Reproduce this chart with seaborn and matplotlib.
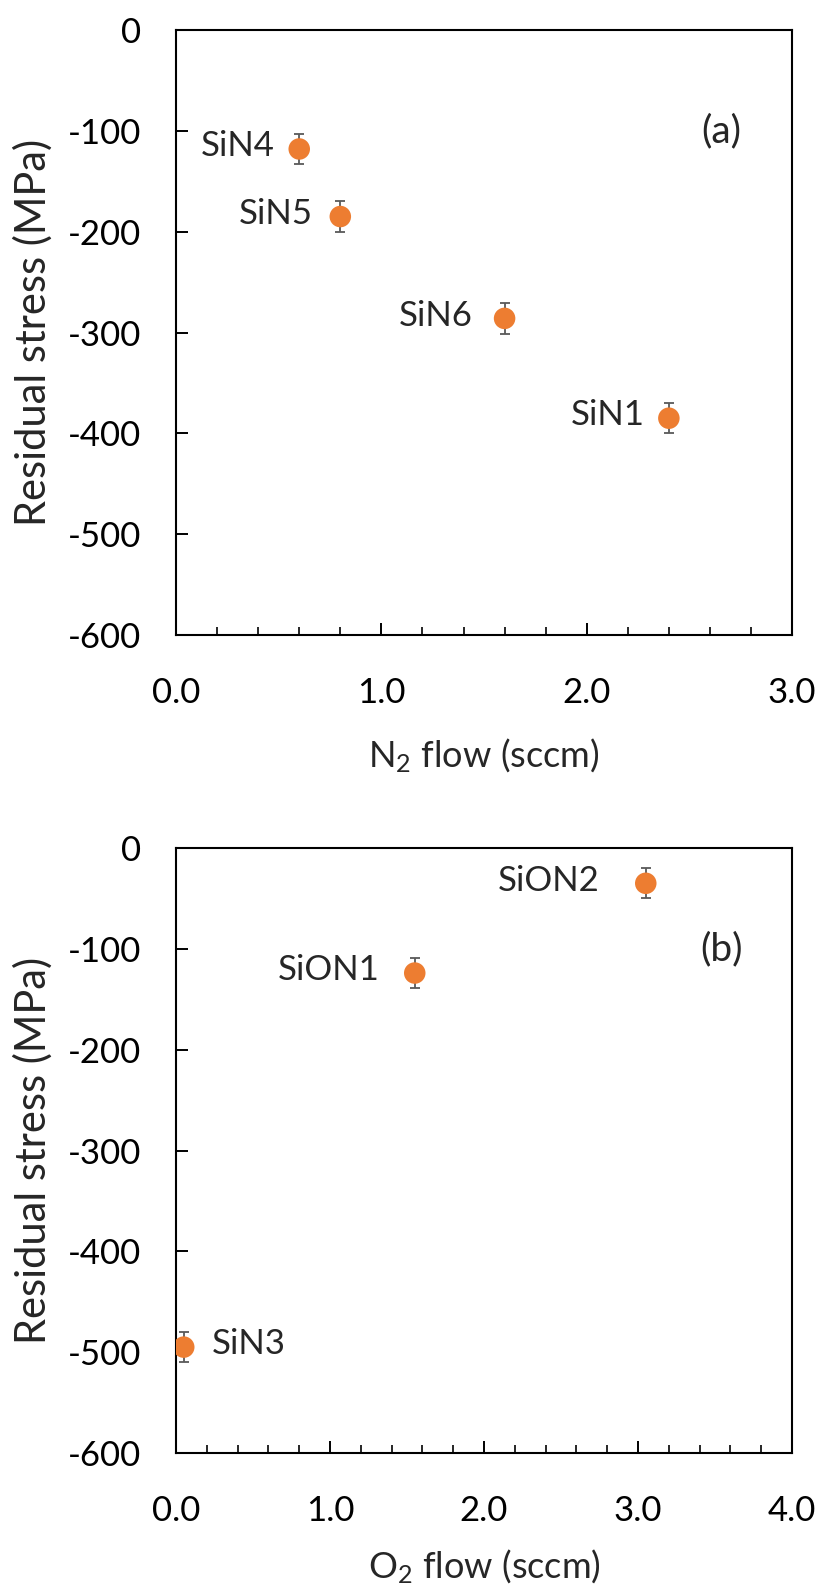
import numpy as np
import pandas as pd
import matplotlib
matplotlib.use("Agg")
import matplotlib.pyplot as plt
from matplotlib.ticker import MultipleLocator, FormatStrFormatter
import seaborn as sns

# Panel (a): N2 flow series
n2_samples = ["SiN4", "SiN5", "SiN6", "SiN1"]
n2_flow = [0.6, 0.8, 1.6, 2.4]
n2_stress = [-118, -185, -286, -385]
n2_err = [15, 15, 15, 15]

# Panel (b): O2 flow series
o2_samples = ["SiN3", "SiON1", "SiON2"]
o2_flow = [0.05, 1.55, 3.05]
o2_stress = [-495, -124, -35]
o2_err = [15, 15, 15]

sns.set_theme(style="white")
plt.rcParams['font.family'] = ['Lato', 'DejaVu Sans']
plt.rcParams['axes.unicode_minus'] = False
plt.rcParams['mathtext.fontset'] = 'custom'
plt.rcParams['mathtext.rm'] = 'Lato'
plt.rcParams['mathtext.it'] = 'Lato'

ORANGE = "#ED7D31"
GREY = "#595959"
FS_TICK = 25
FS_ANN = 25
FS_XLAB = 26
FS_YLAB = 30
FS_TAG = 28

fig = plt.figure(figsize=(8.18, 15.94), dpi=100)
ax1 = fig.add_axes([0.2152, 0.60163, 0.7531, 0.37955])
ax2 = fig.add_axes([0.2152, 0.08846, 0.7531, 0.37954])

def draw(ax, samples, x, y, err, xmax, xlabel, tag, offsets, xlab_y):
    df = pd.DataFrame({"flow": x, "stress": y, "sample": samples})
    ax.errorbar(x, y, yerr=err, fmt="none", ecolor=GREY, elinewidth=1.3,
                capsize=3.5, capthick=1.3, zorder=2)
    sns.scatterplot(data=df, x="flow", y="stress", ax=ax, s=240, color=ORANGE,
                    edgecolor="none", zorder=3, legend=False)
    for s, xi, yi, off in zip(samples, x, y, offsets):
        ha = "right" if off < 0 else "left"
        ax.annotate(s, (xi, yi), xytext=(off, 2), textcoords="offset points",
                    ha=ha, va="center", fontsize=FS_ANN)
    ax.set_xlim(0, xmax)
    ax.set_ylim(-600, 0)
    ax.xaxis.set_major_locator(MultipleLocator(1.0))
    ax.xaxis.set_minor_locator(MultipleLocator(0.2))
    ax.yaxis.set_major_locator(MultipleLocator(100))
    ax.xaxis.set_major_formatter(FormatStrFormatter("%.1f"))
    ax.yaxis.set_major_formatter(FormatStrFormatter("%d"))
    ax.tick_params(axis="x", which="major", direction="in", length=8.5, width=1.4,
                   bottom=True, top=False, labelsize=FS_TICK, pad=30, colors="black")
    ax.tick_params(axis="x", which="minor", direction="in", length=6, width=1.4,
                   bottom=True, top=False)
    ax.tick_params(axis="y", which="major", direction="in", length=8.5, width=1.4,
                   left=True, right=False, labelsize=FS_TICK, pad=25, colors="black")
    for sp in ax.spines.values():
        sp.set_color("black")
        sp.set_linewidth(1.5)
    ax.set_xlabel(xlabel, fontsize=FS_XLAB, va="center")
    ax.xaxis.set_label_coords(0.5, xlab_y)
    ax.set_ylabel("Residual stress (MPa)", fontsize=FS_YLAB, va="center")
    ax.yaxis.set_label_coords(-0.232, 0.5)
    ax.text(0.885, 0.832, tag, transform=ax.transAxes, fontsize=FS_TAG,
            ha="center", va="center")

draw(ax1, n2_samples, n2_flow, n2_stress, n2_err, 3.0, "N$_2$ flow (sccm)", "(a)",
     [-18, -20, -23, -17], -0.200)
draw(ax2, o2_samples, o2_flow, o2_stress, o2_err, 4.0, "O$_2$ flow (sccm)", "(b)",
     [20, -25, -33], -0.188)

fig.savefig("out.png", dpi=100)
